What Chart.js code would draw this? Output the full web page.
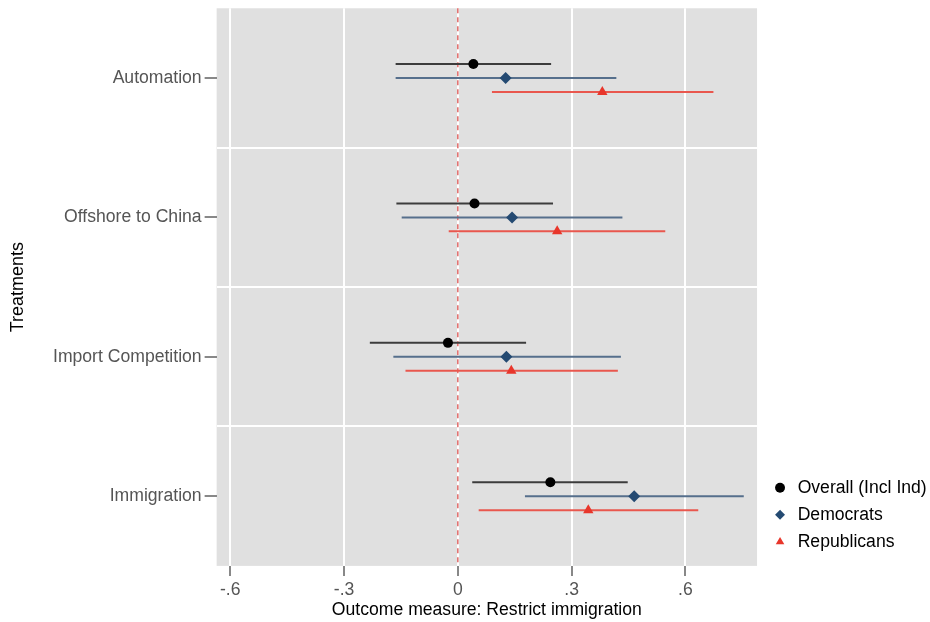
<!DOCTYPE html>
<html>
<head>
<meta charset="utf-8">
<script src="https://cdn.jsdelivr.net/npm/chart.js@4/dist/chart.umd.min.js"></script>
<style>
    html, body { margin: 0; padding: 0; background: #fff; }
    #wrap { width: 930px; height: 622px; }
</style>
</head>
<body>
<div id="wrap"><canvas id="chartCoef"></canvas></div>
<script>
// Treatments (top to bottom)
const treatments = ["Automation", "Offshore to China", "Import Competition", "Immigration"];

// Overall (Incl Ind)
const overallEst = [0.041, 0.044, -0.026, 0.244];
const overallLo = [-0.164, -0.162, -0.232, 0.038];
const overallHi = [0.246, 0.251, 0.180, 0.448];

// Democrats
const demEst = [0.126, 0.143, 0.128, 0.465];
const demLo = [-0.164, -0.148, -0.170, 0.177];
const demHi = [0.418, 0.434, 0.430, 0.754];

// Republicans
const repEst = [0.381, 0.262, 0.141, 0.344];
const repLo = [0.090, -0.024, -0.138, 0.055];
const repHi = [0.674, 0.547, 0.422, 0.634];

const xTicks = [-0.6, -0.3, 0, 0.3, 0.6];

const fmt = v => v === 0 ? "0" : v.toFixed(1).replace("0.", ".");
const FONT = "'Liberation Sans', Arial, sans-serif";

const series = [
    { label: "Overall (Incl Ind)", est: overallEst, lo: overallLo, hi: overallHi, shift: -0.1,
      color: "#000000", line: "#3c3c3c", style: "circle", radius: 5 },
    { label: "Democrats", est: demEst, lo: demLo, hi: demHi, shift: 0,
      color: "#244a72", line: "#566f8c", style: "rectRot", radius: 6 },
    { label: "Republicans", est: repEst, lo: repLo, hi: repHi, shift: 0.1,
      color: "#e8362b", line: "#e9574e", style: "triangle", radius: 6 }
];

// fondo gris del area
const bgPlugin = {
    id: "bg",
    beforeDraw(chart) {
        const a = chart.chartArea;
        chart.ctx.save();
        chart.ctx.fillStyle = "#e0e0e0";
        chart.ctx.fillRect(a.left, a.top, a.right - a.left, a.bottom - a.top);
        chart.ctx.restore();
    }
};

// mover la leyenda un poco (derecha / arriba)
const legendShift = {
    id: "legendShift",
    afterLayout(chart) {
        const lg = chart.legend;
        lg.left += 4.7; lg.right += 4.7;
        lg.top -= 5.7; lg.bottom -= 5.7;
    }
};

// intervalos + linea en cero
const ciPlugin = {
    id: "ci",
    beforeDatasetsDraw(chart) {
        const ctx = chart.ctx;
        const xs = chart.scales.x, ys = chart.scales.y;
        const area = chart.chartArea;
        ctx.save();
        ctx.strokeStyle = "#e06a68";
        ctx.lineWidth = 1.5;
        ctx.setLineDash([5, 4]);
        const x0 = xs.getPixelForValue(0);
        ctx.beginPath();
        ctx.moveTo(x0, area.top);
        ctx.lineTo(x0, area.bottom);
        ctx.stroke();
        ctx.setLineDash([]);
        chart.data.datasets.forEach(ds => {
            ctx.strokeStyle = ds.ciColor;
            ctx.lineWidth = 2;
            ds.ciLo.forEach((lo, i) => {
                const y = ys.getPixelForValue(i + 1 + ds.shift);
                ctx.beginPath();
                ctx.moveTo(xs.getPixelForValue(lo), y);
                ctx.lineTo(xs.getPixelForValue(ds.ciHi[i]), y);
                ctx.stroke();
            });
        });
        ctx.restore();
    }
};

new Chart(document.getElementById("chartCoef"), {
    type: "scatter",
    data: {
        datasets: series.map(s => ({
            label: s.label,
            data: s.est.map((v, i) => ({ x: v, y: i + 1 + s.shift })),
            ciLo: s.lo,
            ciHi: s.hi,
            ciColor: s.line,
            shift: s.shift,
            pointStyle: s.style,
            pointRadius: s.radius,
            pointHoverRadius: s.radius,
            backgroundColor: s.color,
            borderColor: s.color,
            borderWidth: 0
        }))
    },
    plugins: [bgPlugin, ciPlugin, legendShift],
    options: {
        responsive: true,
        maintainAspectRatio: false,
        animation: false,
        layout: {
            padding: { left: 7.7, right: -2, top: 8, bottom: 2.8 }
        },
        plugins: {
            tooltip: { enabled: false },
            legend: {
                position: "right",
                align: "end",
                fullSize: false,
                labels: {
                    usePointStyle: true,
                    boxWidth: 17.6,
                    boxHeight: 7,
                    padding: 9.5,
                    color: "#000",
                    font: { family: FONT, size: 17.6 }
                }
            }
        },
        scales: {
            x: {
                type: "linear",
                min: -0.636,
                max: 0.789,
                afterBuildTicks: axis => { axis.ticks = xTicks.map(v => ({ value: v })); },
                grid: {
                    color: "#ffffff",
                    lineWidth: 2,
                    tickColor: "#888888",
                    tickLength: 10
                },
                border: { display: false },
                ticks: {
                    callback: v => fmt(v),
                    color: "#555555",
                    padding: 5.8,
                    font: { family: FONT, size: 17.6, lineHeight: 1 }
                },
                title: {
                    display: true,
                    text: "Outcome measure: Restrict immigration",
                    color: "#000",
                    padding: { top: -3.5, bottom: 0 },
                    font: { family: FONT, size: 17.6, lineHeight: 1 }
                }
            },
            y: {
                type: "linear",
                reverse: true,
                min: 0.5,
                max: 4.5,
                afterBuildTicks: axis => {
                    const t = [];
                    for (let i = 1; i <= treatments.length; i++) {
                        t.push({ value: i });
                        if (i < treatments.length) t.push({ value: i + 0.5 });
                    }
                    axis.ticks = t;
                },
                grid: {
                    color: c => Number.isInteger(c.tick.value) ? "rgba(0,0,0,0)" : "#ffffff",
                    tickColor: c => Number.isInteger(c.tick.value) ? "#888888" : "rgba(0,0,0,0)",
                    lineWidth: 2,
                    tickLength: 12
                },
                border: { display: false },
                ticks: {
                    autoSkip: false,
                    callback: v => Number.isInteger(v) ? treatments[v - 1] : "",
                    color: "#555555",
                    padding: 3,
                    font: { family: FONT, size: 17.6, lineHeight: 0.6 }
                },
                title: {
                    display: true,
                    text: "Treatments",
                    color: "#000",
                    padding: { top: 0, bottom: 20.7 },
                    font: { family: FONT, size: 18 }
                }
            }
        }
    }
});
</script>
</body>
</html>
